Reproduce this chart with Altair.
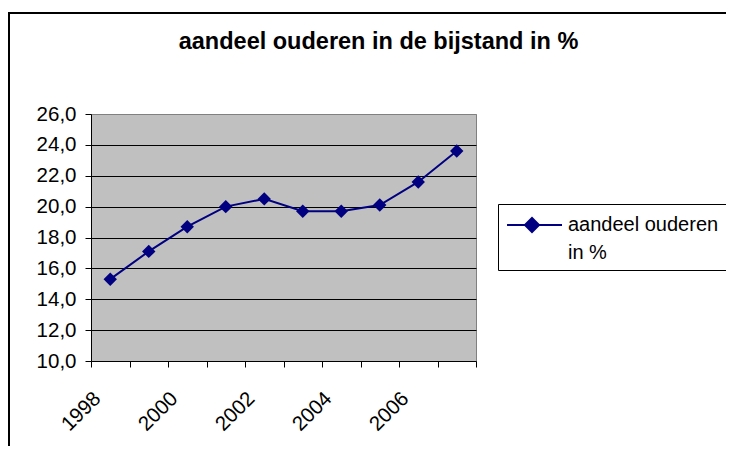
import altair as alt
import pandas as pd

years = [1998, 1999, 2000, 2001, 2002, 2003, 2004, 2005, 2006, 2007]
values = [15.3, 17.1, 18.7, 20.0, 20.5, 19.7, 19.7, 20.1, 21.6, 23.6]
series_name = "aandeel ouderen in %"
legend_lines = ["aandeel ouderen", "in %"]
title_text = "aandeel ouderen in de bijstand in %"
y_ticks = [10, 12, 14, 16, 18, 20, 22, 24, 26]
x_bounds = [1997.5, 1998.5, 1999.5, 2000.5, 2001.5, 2002.5, 2003.5, 2004.5, 2005.5, 2006.5, 2007.5]

FONT = "Liberation Sans"
NAVY = "#000080"

df = pd.DataFrame({"jaar": years, "aandeel": values, "serie": [series_name] * len(years)})

frame = alt.Chart(pd.DataFrame({"k": [0]})).mark_rect(
    filled=False, stroke="black", strokeWidth=2
).encode(
    x=alt.value(-82), x2=alt.value(900), y=alt.value(-101), y2=alt.value(600)
)

legend_expr = "[" + ", ".join("'" + s + "'" for s in legend_lines) + "]"

line = alt.Chart(df).mark_line(
    color=NAVY, strokeWidth=2,
    point=alt.OverlayMarkDef(shape="diamond", size=180, filled=True, color=NAVY, opacity=1),
).encode(
    x=alt.X(
        "jaar:Q",
        scale=alt.Scale(domain=[x_bounds[0], x_bounds[-1]], nice=False, zero=False),
        axis=alt.Axis(
            values=x_bounds, title=None, grid=False,
            labelExpr="((datum.value + 0.5) % 2 == 0 && datum.value < 2007) ? toString(datum.value + 0.5) : ''",
            labelAngle=-45, labelAlign="right", labelBaseline="top",
            labelOffset=-1, labelPadding=21, labelOverlap=False, labelFlush=False,
            labelFont=FONT, labelFontSize=20.5, labelColor="black",
            tickSize=6, tickColor="black", domainColor="black", domainWidth=1,
        ),
    ),
    y=alt.Y(
        "aandeel:Q",
        scale=alt.Scale(domain=[10, 26], nice=False, zero=False),
        axis=alt.Axis(
            values=y_ticks, title=None,
            labelExpr="replace(format(datum.value, '.1f'), '.', ',')",
            labelFont=FONT, labelFontSize=20.5, labelColor="black", labelPadding=9,
            tickSize=6, tickColor="black", domainColor="black",
            grid=True, gridColor={"condition": {"test": "datum.value == 26 || datum.value == 10", "value": "#808080"}, "value": "black"},
            gridWidth=1, gridOpacity=1,
        ),
    ),
    color=alt.Color(
        "serie:N",
        scale=alt.Scale(domain=[series_name], range=[NAVY]),
        legend=alt.Legend(
            title=None, orient="none", legendX=407, legendY=90,
            strokeColor="black", fillColor="white", padding=7, cornerRadius=0,
            labelFont=FONT, labelFontSize=20, labelColor="black", labelLimit=400,
            labelExpr=legend_expr, labelOffset=35,
            symbolType="M-0.92,0L3.31,0M0.46,0L1,-0.54L1.54,0L1,0.54Z",
            symbolSize=676, symbolStrokeWidth=2,
            symbolFillColor=NAVY, symbolStrokeColor=NAVY, symbolOpacity=1,
        ),
    ),
)

chart = alt.layer(frame, line).properties(
    width=385, height=247,
    autosize=alt.AutoSizeParams(type="none"),
    padding={"left": 83, "top": 106, "right": 250, "bottom": 85},
    title=alt.TitleParams(
        text=title_text, font=FONT, fontSize=23.5, fontWeight="bold", color="black",
        anchor="middle", frame="group", dx=95, offset=0, dy=60, baseline="alphabetic",
    ),
    background="white",
).configure(
    view=alt.ViewConfig(fill="#C0C0C0", stroke="#808080", strokeWidth=1),
    style={"guide-label": {"lineHeight": 28}},
)

chart.save("out.html", embed_options={"renderer": "svg", "actions": False})
